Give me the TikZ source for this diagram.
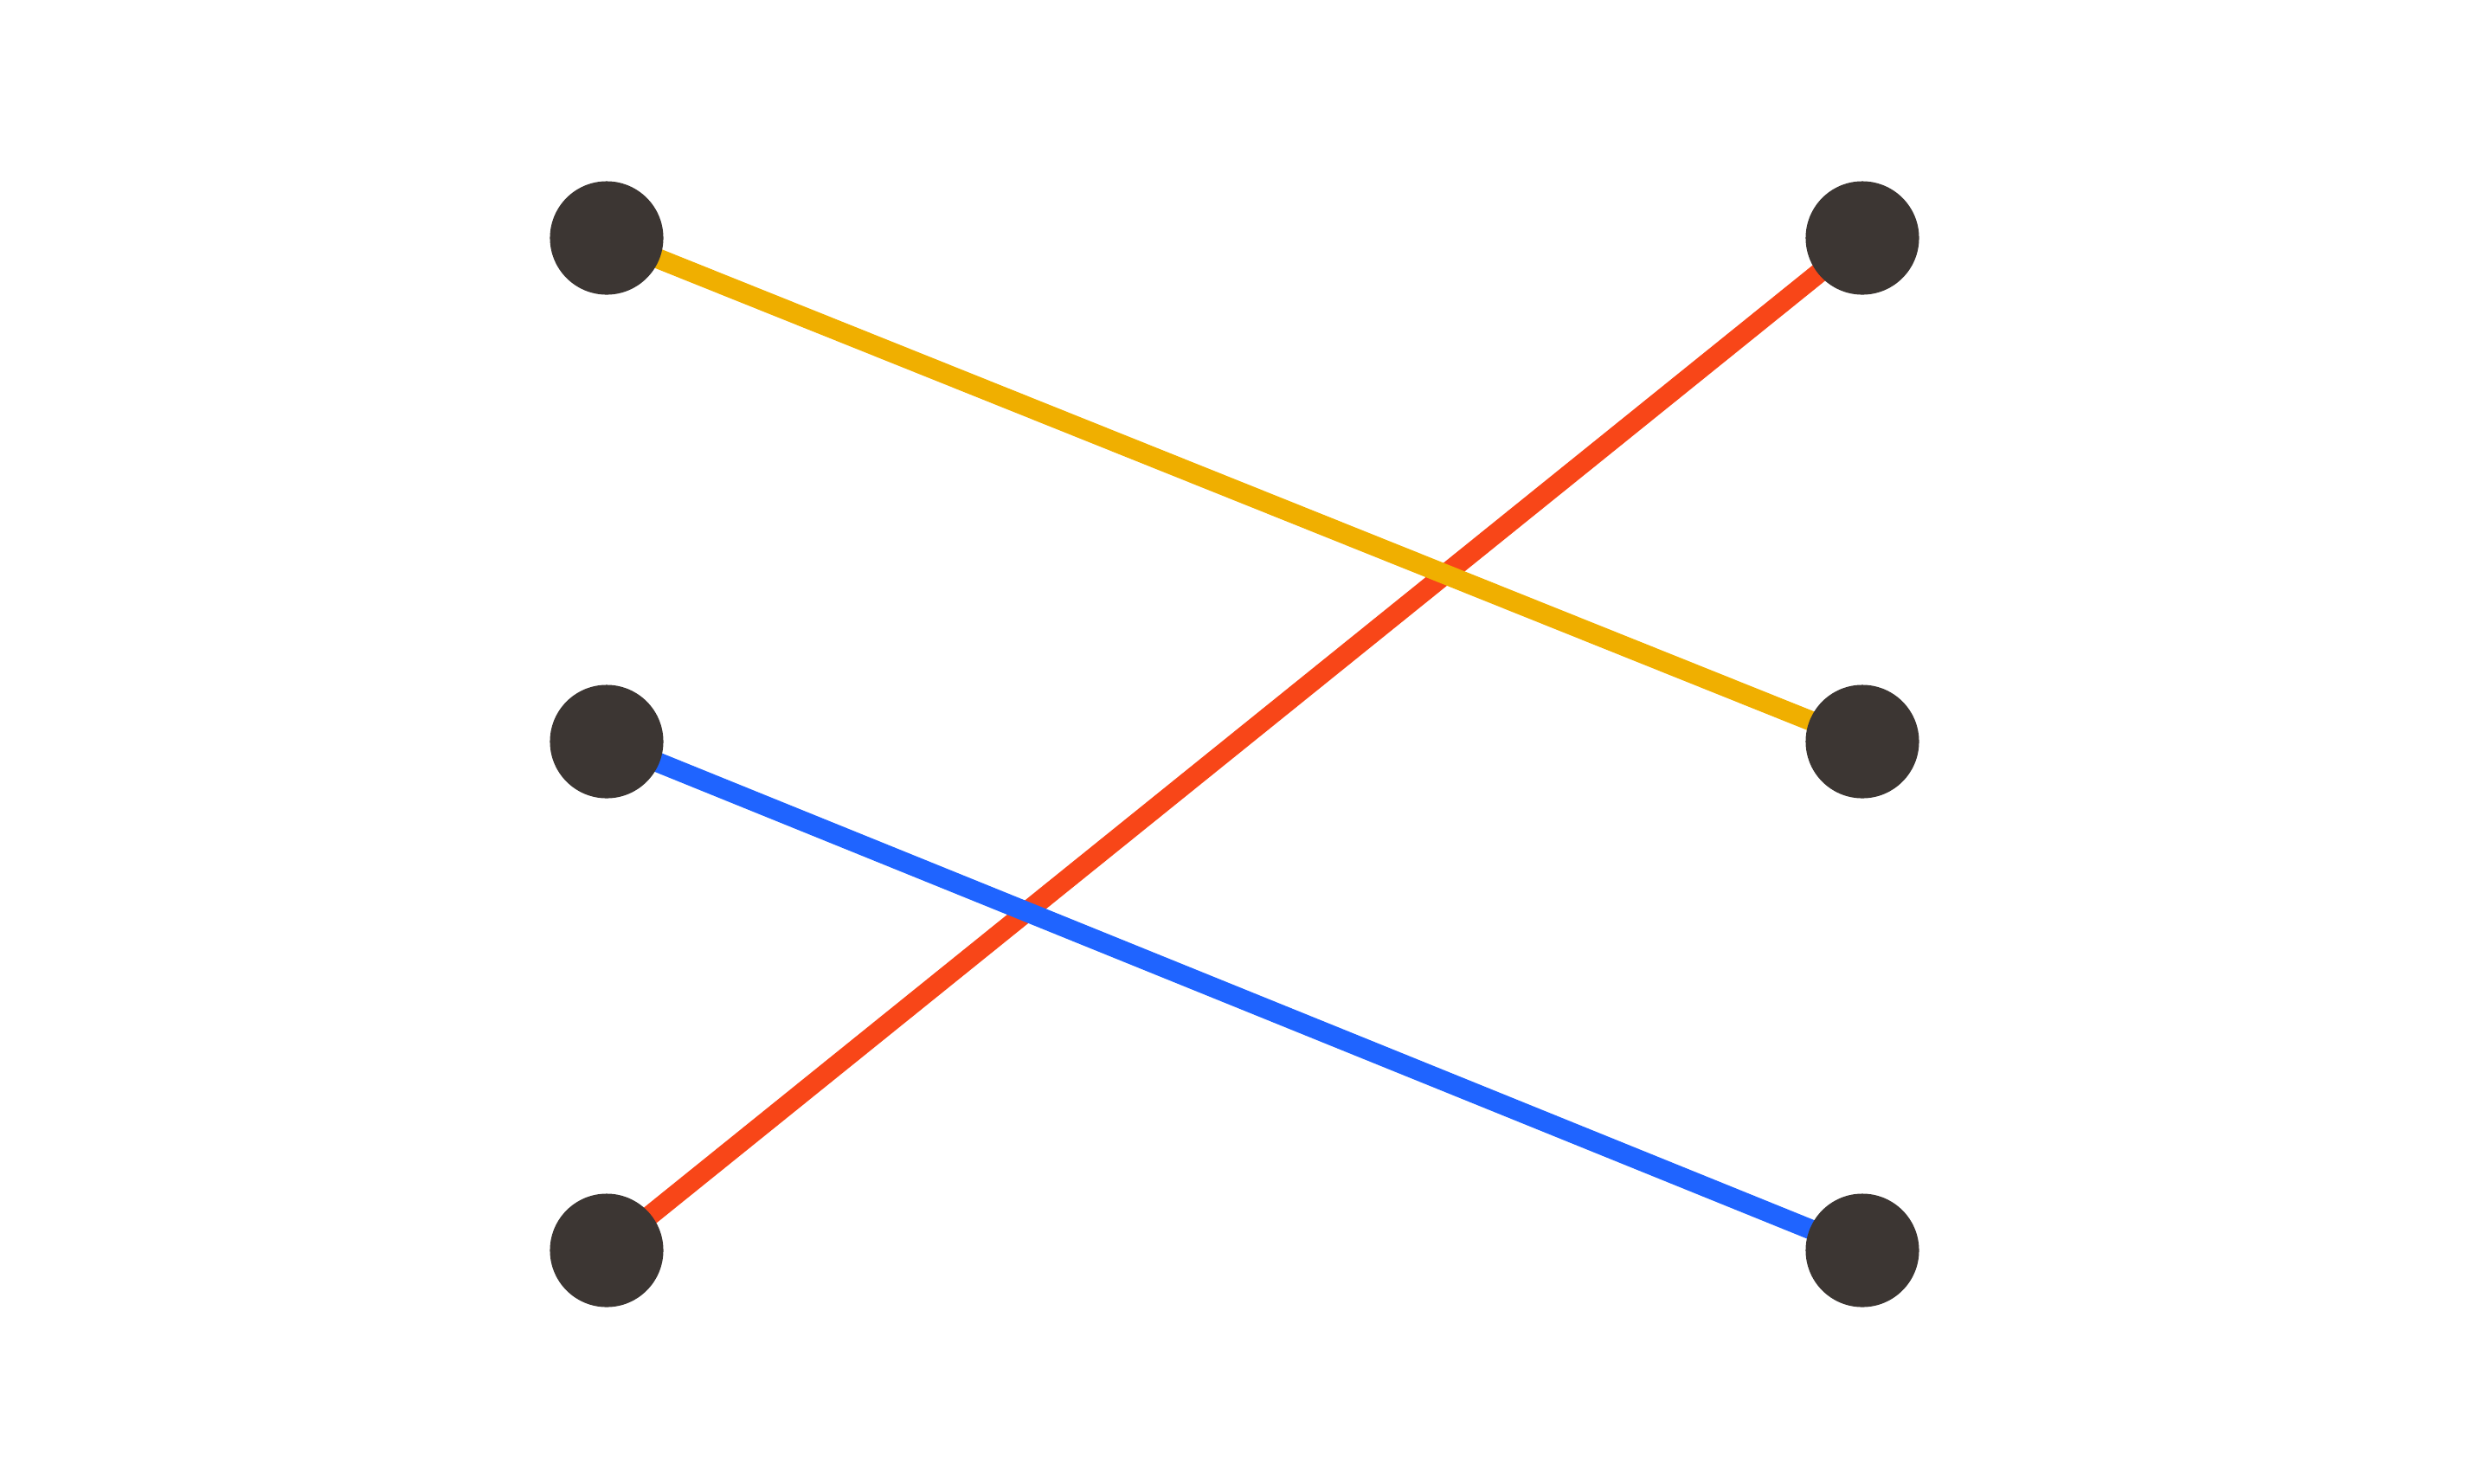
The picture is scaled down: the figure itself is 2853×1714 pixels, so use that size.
\documentclass[tikz,border=0pt]{standalone}
\usetikzlibrary{backgrounds}
\definecolor{dotc}{HTML}{3C3633}
\definecolor{yel}{HTML}{F0AF00}
\definecolor{redl}{HTML}{F84618}
\definecolor{blu}{HTML}{1F64FF}
\begin{document}
\begin{tikzpicture}[x=0.01cm,y=-0.01cm,
  dot/.style={circle,fill=dotc,minimum size=1.31cm,inner sep=0pt,draw=none},
  link/.style={line width=0.23cm}]
\useasboundingbox (0,0) rectangle (2853,1714);
\node[dot] (l1) at (701,275) {};
\node[dot] (l2) at (701,857) {};
\node[dot] (l3) at (701,1445) {};
\node[dot] (r1) at (2152,275) {};
\node[dot] (r2) at (2152,857) {};
\node[dot] (r3) at (2152,1445) {};
\begin{scope}[on background layer]
\draw[link,redl] (l3.center) -- (r1.center);
\draw[link,yel] (l1.center) -- (r2.center);
\draw[link,blu] (l2.center) -- (r3.center);
\end{scope}
\end{tikzpicture}
\end{document}
